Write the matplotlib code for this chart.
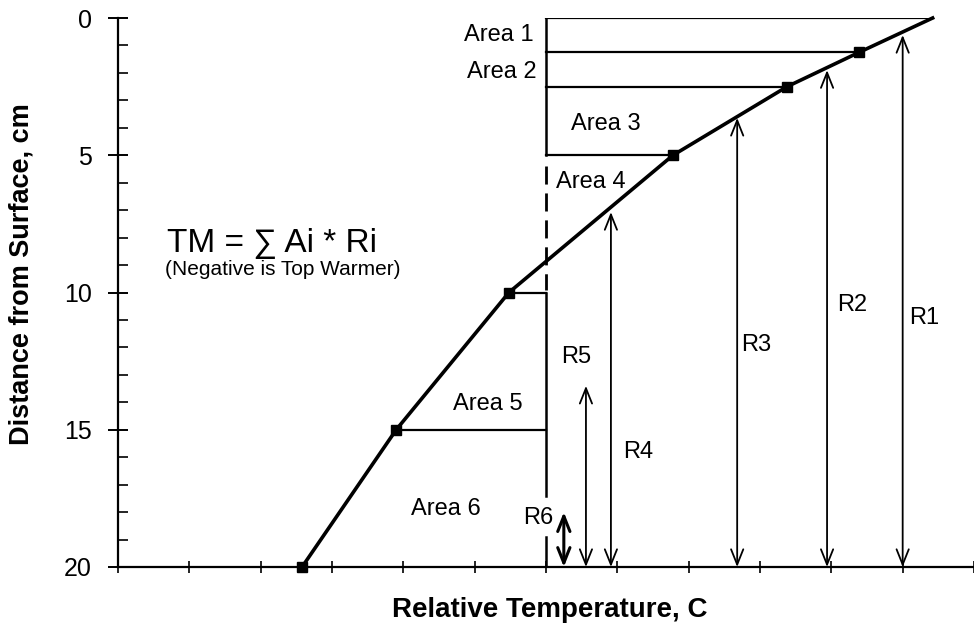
import matplotlib
matplotlib.use("Agg")
import matplotlib.pyplot as plt
from matplotlib.ticker import MultipleLocator, NullFormatter

plt.rcParams['font.family'] = ['Liberation Sans', 'DejaVu Sans']

# 온도 프로파일 (상대온도, 깊이 cm)
temp = [5.42, 4.39, 3.38, 1.78, -0.52, -2.1, -3.42]
depth = [0, 1.25, 2.5, 5, 10, 15, 20]

# 면적 라벨
area_labels = ['Area 1', 'Area 2', 'Area 3', 'Area 4', 'Area 5', 'Area 6']

# 모멘트 팔 R1..R6 (x 위치, 화살표 위 끝 깊이)
r_labels = ['R1', 'R2', 'R3', 'R4', 'R5', 'R6']
r_x = [5.0, 3.94, 2.68, 0.91, 0.56, 0.25]
r_top = [0.62, 1.9, 3.64, 7.07, 13.4, 18.0]

fig = plt.figure(figsize=(9.74, 6.27), dpi=100)
ax = fig.add_axes([118 / 974, 60 / 627, 856 / 974, 549 / 627])

ax.set_xlim(-6, 6)
ax.set_ylim(20, 0)

# 곡선 + 마커
ax.plot(temp, depth, color='black', lw=2.6, zorder=4, clip_on=False)
ax.plot(temp[1:], depth[1:], 's', color='black', ms=6.5, zorder=5, clip_on=False)

# 면적 경계선
for i in range(4):
    ax.plot([0, temp[i]], [depth[i], depth[i]], color='black', lw=1.6)
for i in (4, 5):
    ax.plot([temp[i], 0], [depth[i], depth[i]], color='black', lw=1.6)

# x=0 세로선
ax.plot([0, 0], [0, 5], color='black', lw=1.8)
ax.plot([0, 0], [5.4, 9.9], color='black', lw=2, dashes=(6.5, 3.2))
ax.plot([0, 0], [10, 17.4], color='black', lw=1.8)
ax.plot([0, 0], [18.9, 20], color='black', lw=1.8)

# 화살표
for i, (x, top) in enumerate(zip(r_x, r_top)):
    w = 2.2 if i == 5 else 1.3
    ax.annotate('', xy=(x, top), xytext=(x, 20),
                arrowprops=dict(arrowstyle='<->,head_length=0.55,head_width=0.22',
                                mutation_scale=20, color='black', lw=w,
                                shrinkA=0, shrinkB=0))

fs = 17
ax.text(-0.18, 0.62, area_labels[0], ha='right', va='center', fontsize=fs)
ax.text(-0.13, 1.97, area_labels[1], ha='right', va='center', fontsize=fs)
ax.text(0.35, 3.86, area_labels[2], ha='left', va='center', fontsize=fs)
ax.text(0.14, 5.97, area_labels[3], ha='left', va='center', fontsize=fs)
ax.text(-1.3, 14.05, area_labels[4], ha='left', va='center', fontsize=fs)
ax.text(-1.89, 17.9, area_labels[5], ha='left', va='center', fontsize=fs)

r_pos = [(5.09, 10.93), (4.08, 10.45), (2.73, 11.9), (1.08, 15.8), (0.21, 12.35), (-0.32, 18.2)]
for lab, (x, y) in zip(r_labels, r_pos):
    ax.text(x, y, lab, ha='left', va='center', fontsize=fs)

ax.text(-3.84, 8.23, 'TM = \u2211 Ai * Ri', ha='center', va='center', fontsize=24)
ax.text(-3.69, 9.18, '(Negative is Top Warmer)', ha='center', va='center', fontsize=15)

# 축 스타일
for s in ('top', 'right'):
    ax.spines[s].set_visible(False)
ax.spines['left'].set_linewidth(1.6)
ax.spines['bottom'].set_linewidth(1.6)

ax.yaxis.set_major_locator(MultipleLocator(5))
ax.yaxis.set_minor_locator(MultipleLocator(1))
ax.xaxis.set_major_locator(MultipleLocator(1))
ax.xaxis.set_major_formatter(NullFormatter())
ax.tick_params(axis='y', which='major', direction='inout', length=14, width=1.4, labelsize=18, pad=12)
ax.tick_params(axis='y', which='minor', direction='in', length=7, width=1.2)
ax.tick_params(axis='x', which='major', direction='inout', length=9, width=1.2)

ax.set_ylabel('Distance from Surface, cm', fontsize=19.5, fontweight='bold')
ax.yaxis.set_label_coords(-0.098, (567 - 274) / 549)
ax.set_xlabel('Relative Temperature, C', fontsize=20, fontweight='bold')
ax.xaxis.set_label_coords((550 - 118) / 856, -0.054)

fig.savefig('out.png', dpi=100)
